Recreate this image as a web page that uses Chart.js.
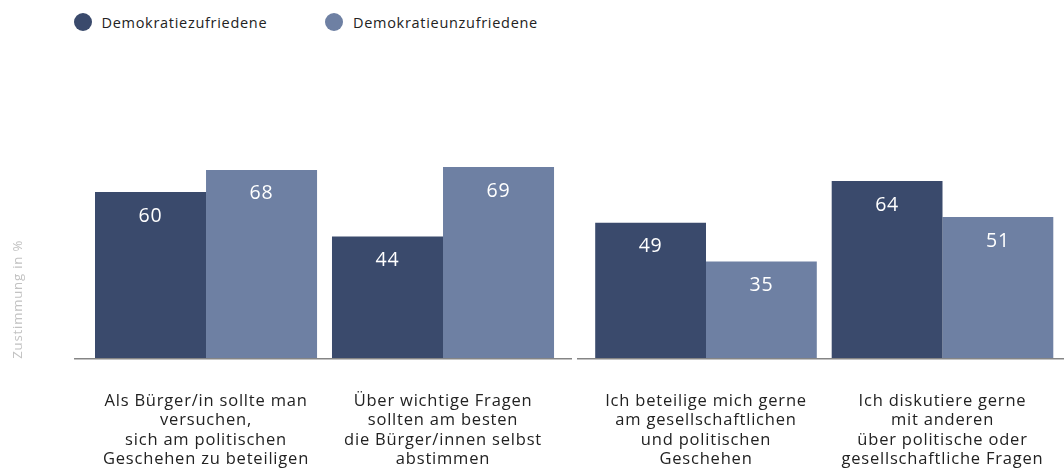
<!DOCTYPE html>
<html>
<head>
<meta charset="utf-8">
<script src="https://cdn.jsdelivr.net/npm/chart.js@4"></script>
<style>
  body { margin: 0; background: #fff; font-family: "Open Sans", sans-serif; overflow: hidden; }
  #wrap { position: relative; width: 1064px; height: 473px; overflow: hidden; }
  #legend { position: absolute; left: 0; top: 0; width: 600px; height: 50px; font-size: 14.5px; letter-spacing: 0.7px; color: #222; }
  #legend span { position: absolute; top: 12px; display: flex; align-items: center; height: 20px; }
  #legend i { display: inline-block; width: 18px; height: 18px; border-radius: 50%; margin-right: 10px; }
  #left { position: absolute; left: 0; top: 0; }
  #right { position: absolute; left: 574px; top: 0; }
</style>
</head>
<body>
<div id="wrap">
  <div id="legend"></div>
  <div id="left"><canvas id="c1" width="574" height="473"></canvas></div>
  <div id="right"><canvas id="c2" width="490" height="473"></canvas></div>
</div>
<script>
var seriesNames = ['Demokratiezufriedene', 'Demokratieunzufriedene'];
var seriesColors = ['#3a4a6c', '#6e80a3'];

var leftLabels = [
    ['Als Bürger/in sollte man', 'versuchen,', 'sich am politischen', 'Geschehen zu beteiligen'],
    ['Über wichtige Fragen', 'sollten am besten', 'die Bürger/innen selbst', 'abstimmen']
];
var leftZufrieden = [60, 44];
var leftUnzufrieden = [68, 69];

var rightLabels = [
    ['Ich beteilige mich gerne', 'am gesellschaftlichen', 'und politischen', 'Geschehen'],
    ['Ich diskutiere gerne', 'mit anderen', 'über politische oder', 'gesellschaftliche Fragen']
];
var rightZufrieden = [49, 64];
var rightUnzufrieden = [35, 51];

var legendLeft = [73.5, 325];
var legend = document.getElementById('legend');
seriesNames.forEach(function (name, i) {
    var s = document.createElement('span');
    s.style.left = legendLeft[i] + 'px';
    s.innerHTML = '<i style="background:' + seriesColors[i] + '"></i>' + name;
    legend.appendChild(s);
});

// the original font runs a little wider, so space the letters out a bit
var spacing = {
    id: 'spacing',
    beforeUpdate: function (chart) { chart.ctx.letterSpacing = '0.8px'; },
    beforeDraw: function (chart) { chart.ctx.letterSpacing = '0.8px'; }
};

// white value labels inside the bars
var valueLabels = {
    id: 'valueLabels',
    afterDatasetsDraw: function (chart) {
        var ctx = chart.ctx;
        ctx.save();
        ctx.fillStyle = '#fff';
        ctx.font = '19.5px "Open Sans"';
        ctx.textAlign = 'center';
        ctx.textBaseline = 'middle';
        chart.data.datasets.forEach(function (ds, i) {
            chart.getDatasetMeta(i).data.forEach(function (bar, j) {
                ctx.fillText(ds.data[j], bar.x, bar.y + 24);
            });
        });
        ctx.restore();
    }
};

// grey baseline, a bit wider than the plot area
var baseline = {
    id: 'baseline',
    afterDatasetsDraw: function (chart, args, opts) {
        var a = chart.chartArea, ctx = chart.ctx;
        ctx.save();
        ctx.strokeStyle = '#858585';
        ctx.lineWidth = 1.6;
        ctx.beginPath();
        ctx.moveTo(a.left - opts.extLeft, a.bottom);
        ctx.lineTo(a.right + opts.extRight, a.bottom);
        ctx.stroke();
        ctx.restore();
    }
};

function makeChart(id, labels, zuf, unzuf, showTitle, padding, ext) {
    return new Chart(document.getElementById(id), {
        type: 'bar',
        data: {
            labels: labels,
            datasets: [{
                label: seriesNames[0],
                data: zuf,
                backgroundColor: seriesColors[0]
            }, {
                label: seriesNames[1],
                data: unzuf,
                backgroundColor: seriesColors[1]
            }]
        },
        options: {
            responsive: false,
            animation: false,
            events: [],
            layout: { padding: padding },
            datasets: { bar: { categoryPercentage: 0.937, barPercentage: 1 } },
            plugins: {
                legend: { display: false },
                tooltip: { enabled: false },
                baseline: ext
            },
            scales: {
                x: {
                    grid: { display: false, drawTicks: false },
                    border: { display: false },
                    ticks: {
                        color: '#222',
                        font: { family: 'Open Sans', size: 16.5, lineHeight: 1.17 },
                        padding: 33,
                        maxRotation: 0,
                        minRotation: 0,
                        autoSkip: false
                    },
                    afterFit: function (scale) {
                        scale.paddingLeft = 0;
                        scale.paddingRight = 0;
                    }
                },
                y: {
                    min: 0,
                    max: 100,
                    display: showTitle,
                    grid: { display: false, drawTicks: false },
                    border: { display: false },
                    ticks: { display: false },
                    title: {
                        display: true,
                        text: 'Zustimmung in %',
                        align: 'start',
                        color: '#c2c2c2',
                        font: { family: 'Open Sans', size: 13.2, lineHeight: 1.2 },
                        padding: { top: 10.5, bottom: 61.2 }
                    }
                }
            }
        },
        plugins: [spacing, valueLabels, baseline]
    });
}

makeChart('c1', leftLabels, leftZufrieden, leftUnzufrieden, true,
    { top: 81, right: 12.5, bottom: -29, left: 0 }, { extLeft: 13.5, extRight: 10.5 });
makeChart('c2', rightLabels, rightZufrieden, rightUnzufrieden, false,
    { top: 81, right: 3.25, bottom: -29, left: 13.75 }, { extLeft: 10.75, extRight: 3.25 });
</script>
</body>
</html>
